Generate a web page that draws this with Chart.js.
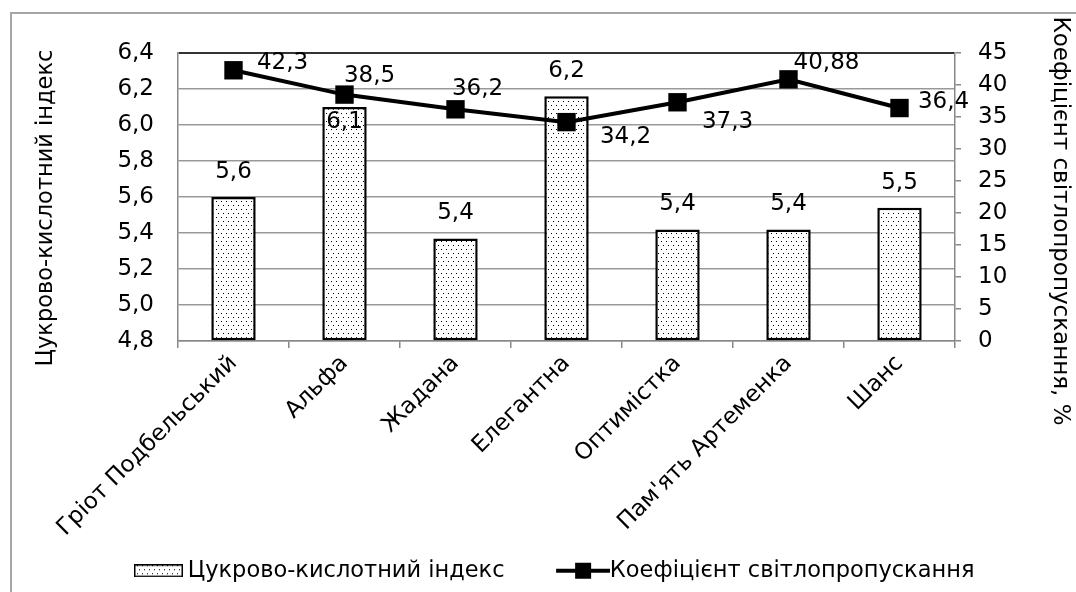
<!DOCTYPE html>
<html>
<head>
<meta charset="utf-8">
<script src="https://cdn.jsdelivr.net/npm/chart.js@4"></script>
<style>
html,body{margin:0;padding:0;background:#fff;}
#wrap{width:1076px;height:592px;position:relative;overflow:hidden;}
</style>
</head>
<body>
<div id="wrap"><canvas id="c" width="1076" height="592"></canvas></div>
<script>
// ---- data ----
const categories = ['Гріот Подбельський', 'Альфа', 'Жадана', 'Елегантна', 'Оптимістка', "Пам'ять Артеменка", 'Шанс'];
const sugarAcidIndex = [5.6, 6.1, 5.37, 6.16, 5.42, 5.42, 5.54];
const lightTransmission = [42.3, 38.5, 36.2, 34.2, 37.3, 40.88, 36.4];
const leftTicks = [4.8, 5.0, 5.2, 5.4, 5.6, 5.8, 6.0, 6.2, 6.4];
const rightTicks = [0, 5, 10, 15, 20, 25, 30, 35, 40, 45];
const seriesNames = ['Цукрово-кислотний індекс', 'Коефіцієнт світлопропускання'];
const axisTitles = ['Цукрово-кислотний індекс', 'Коефіцієнт світлопропускання, %'];

// ---- styling ----
const FAMILY = '"DejaVu Sans", sans-serif';
const TXT = '#000';
Chart.defaults.font.family = FAMILY;

// label offsets (pixels, relative to point / bar top)
const barLabelDy = [-25, 15, -25, -25, -25, -25, -25];
const lineLabelDx = [49, 25, 22, 59, 50, 38, 44];
const lineLabelDy = [-7, -19, -20, 15, 20, -16, -6];

function dotPattern() {
  const t = document.createElement('canvas');
  t.width = 5; t.height = 8;
  const g = t.getContext('2d');
  g.fillStyle = '#fff'; g.fillRect(0, 0, 5, 8);
  g.fillStyle = '#000';
  g.fillRect(1, 1, 1, 1);
  g.fillRect(3, 5, 1, 1);
  return document.getElementById('c').getContext('2d').createPattern(t, 'repeat');
}
const pattern = dotPattern();

function barLegendImg() {
  const c = document.createElement('canvas');
  c.width = 97; c.height = 13;
  const g = c.getContext('2d');
  g.fillStyle = pattern; g.fillRect(48, 0, 49, 13);
  g.strokeStyle = '#000'; g.lineWidth = 1.5; g.strokeRect(48.75, 0.75, 47.5, 11.5);
  return c;
}
function lineLegendImg() {
  const c = document.createElement('canvas');
  c.width = 107; c.height = 18;
  const g = c.getContext('2d');
  g.strokeStyle = '#000'; g.lineWidth = 4;
  g.beginPath(); g.moveTo(53, 9); g.lineTo(107, 9); g.stroke();
  g.fillStyle = '#000'; g.fillRect(72, 1, 16, 16);
  return c;
}
const legImgs = [barLegendImg(), lineLegendImg()];

const fmt1 = v => v.toFixed(1).replace('.', ',');
const fmtRaw = v => String(v).replace('.', ',');

const framePlugin = {
  id: 'frame',
  beforeDraw(chart) {
    const ctx = chart.ctx;
    ctx.save();
    ctx.fillStyle = '#fff';
    ctx.fillRect(0, 0, chart.width, chart.height);
    ctx.strokeStyle = '#a6a6a6';
    ctx.lineWidth = 2;
    ctx.strokeRect(11, 13, 1200, 800);
    ctx.restore();
  }
};

const layoutTweaks = {
  id: 'layoutTweaks',
  afterLayout(chart) {
    const lg = chart.legend;
    if (lg && lg.lineWidths) {
      const pad = lg.options.labels.padding;
      const x0 = (lg.left + pad + lg.right - lg.lineWidths[0]) / 2;
      const shift = 92.5 - x0;
      lg.left += shift; lg.right += shift;
    }
    [['y', 11], ['y1', 24]].forEach(([id, dy]) => {
      const s = chart.scales[id];
      if (s && !s._titleShifted) {
        const orig = s.drawTitle.bind(s);
        s.drawTitle = function () {
          this.ctx.save();
          this.ctx.translate(0, dy);
          orig();
          this.ctx.restore();
        };
        s._titleShifted = true;
      }
    });
  }
};

const valueLabels = {
  id: 'valueLabels',
  afterDatasetsDraw(chart) {
    const ctx = chart.ctx;
    ctx.save();
    ctx.font = '23px ' + FAMILY;
    ctx.fillStyle = TXT;
    ctx.textAlign = 'center';
    ctx.textBaseline = 'middle';
    chart.getDatasetMeta(1).data.forEach((el, i) => {
      ctx.fillText(fmt1(sugarAcidIndex[i]), el.x, el.y + barLabelDy[i]);
    });
    chart.getDatasetMeta(0).data.forEach((el, i) => {
      ctx.fillText(fmtRaw(lightTransmission[i]), el.x + lineLabelDx[i], el.y + lineLabelDy[i]);
    });
    ctx.restore();
  }
};

new Chart(document.getElementById('c'), {
  data: {
    labels: categories,
    datasets: [
      {
        type: 'line',
        label: seriesNames[1],
        data: lightTransmission,
        yAxisID: 'y1',
        order: 0,
        borderColor: '#000',
        borderWidth: 4,
        tension: 0,
        pointStyle: 'rect',
        pointRadius: 13,
        pointBackgroundColor: '#000',
        pointBorderWidth: 0,
        fill: false
      },
      {
        type: 'bar',
        label: seriesNames[0],
        data: sugarAcidIndex,
        yAxisID: 'y',
        order: 1,
        base: 4.8,
        backgroundColor: pattern,
        borderColor: '#000',
        borderWidth: 2.5,
        borderSkipped: false,
        barPercentage: 0.4,
        categoryPercentage: 1
      }
    ]
  },
  options: {
    responsive: false,
    devicePixelRatio: 1,
    animation: false,
    layout: { padding: { top: 53, left: 0, right: 0, bottom: 0 } },
    plugins: {
      tooltip: { enabled: false },
      legend: {
        position: 'bottom',
        labels: {
          usePointStyle: true,
          pointStyleWidth: 84,
          padding: 10,
          color: TXT,
          font: { family: FAMILY, size: 22.5 },
          generateLabels: () => [
            { text: seriesNames[0], pointStyle: legImgs[0], fillStyle: '#fff', strokeStyle: '#000', lineWidth: 0, hidden: false, datasetIndex: 1, fontColor: TXT },
            { text: seriesNames[1], pointStyle: legImgs[1], fillStyle: '#000', strokeStyle: '#000', lineWidth: 0, hidden: false, datasetIndex: 0, fontColor: TXT }
          ]
        }
      }
    },
    scales: {
      x: {
        type: 'category',
        offset: true,
        grid: { display: true, offset: true, drawOnChartArea: false, drawTicks: true, tickLength: 7, color: '#888', lineWidth: 1.5 },
        border: { display: true, color: '#888', width: 1.5 },
        ticks: { color: TXT, font: { family: FAMILY, size: 23 }, minRotation: 45, maxRotation: 45, autoSkip: false, padding: 2 },
        afterFit(s) { s.height = 592 - 341 - (s.chart.legend ? s.chart.legend.height : 0); }
      },
      y: {
        type: 'linear',
        position: 'left',
        min: 4.8,
        max: 6.4,
        afterBuildTicks(s) { s.ticks = leftTicks.map(v => ({ value: v })); },
        grid: { color: c => (c.index === leftTicks.length - 1 ? '#333' : '#999'), lineWidth: c => (c.index === leftTicks.length - 1 ? 2 : 1.5), drawTicks: false },
        border: { display: true, color: '#888', width: 1.5 },
        ticks: { padding: 24, color: TXT, font: { family: FAMILY, size: 23 }, callback: v => fmt1(v) },
        title: { display: true, text: axisTitles[0], color: TXT, font: { family: FAMILY, size: 22.5 }, padding: { top: 33, bottom: 0 } },
        afterFit(s) { s.width = 178; }
      },
      y1: {
        type: 'linear',
        position: 'right',
        min: 0,
        max: 45,
        afterBuildTicks(s) { s.ticks = rightTicks.map(v => ({ value: v })); },
        grid: { drawOnChartArea: false, drawTicks: true, tickLength: 6, color: '#888', lineWidth: 1.5 },
        border: { display: true, color: '#888', width: 1.5 },
        ticks: { padding: 17, color: TXT, font: { family: FAMILY, size: 23 }, callback: v => String(v) },
        title: { display: true, text: axisTitles[1], color: TXT, font: { family: FAMILY, size: 23 }, padding: { top: 2, bottom: 0 } },
        afterFit(s) { s.width = 121; }
      }
    }
  },
  plugins: [framePlugin, layoutTweaks, valueLabels]
});
</script>
</body>
</html>
